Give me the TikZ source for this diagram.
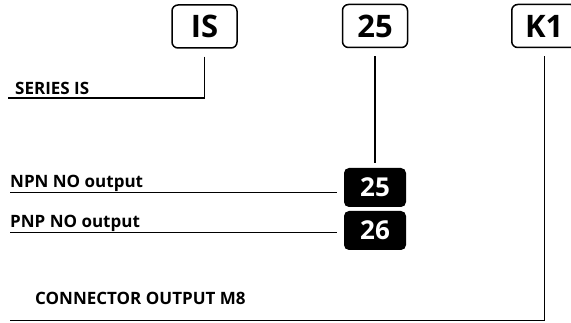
\documentclass[tikz,border=0pt]{standalone}
\usepackage{fontspec}
\setmainfont{Open Sans}
\usepackage{tikz}
\usetikzlibrary{
    positioning,
    calc
}
\tikzset{
    codebox/.style={draw=black,line width=1.5pt,rounded corners=6pt,minimum width=65pt,minimum height=43pt,inner sep=0pt,font=\fontsize{31}{31}\selectfont\bfseries},
    outbox/.style={fill=black,rounded corners=5pt,minimum width=62pt,minimum height=39pt,inner sep=0pt,text=white,font=\fontsize{26}{26}\selectfont\bfseries},
    lbl/.style={anchor=base west,inner sep=0pt,font=\fontsize{17}{17}\selectfont\bfseries},
    lead/.style={line width=1.1pt}
}

\begin{document}
\begin{tikzpicture}[x=1pt,y=-1pt]
    \useasboundingbox (0,0) rectangle (571,323);
    % code boxes along the top
    \node[codebox] (series) at (204.5,26.5) {IS};
    \node[codebox] (code) at (375,26) {25};
    \node[codebox,anchor=west] (conn) at (511,26) {K1\hspace{14pt}};
    % output variants
    \node[outbox] (npn) at (375,187.5) {25};
    \node[outbox] (pnp) at (375,230.5) {26};
    % labels
    \node[lbl] (serieslbl) at (15,94.5) {SERIES IS};
    \node[lbl] (npnlbl) at (10,187.5) {NPN NO output};
    \node[lbl] (pnplbl) at (10,228) {PNP NO output};
    \node[lbl] (connlbl) at (35,304.5) {CONNECTOR OUTPUT M8};
    \coordinate (seriesend) at (8,98);
    \coordinate (npnend) at (10,192.5);
    \coordinate (pnpend) at (10,232.5);
    \coordinate (connend) at (10,320.5);
    % leaders
    \draw[lead] ([yshift=-8pt]series.south) |- (seriesend);
    \draw[lead] ([yshift=-8pt]code.south) -- ([yshift=5pt]npn.north);
    \draw[lead] ([yshift=-8pt]conn.south) |- (connend);
    \draw[lead,shorten >=7pt] (npnend) -- (npnend -| npn.west);
    \draw[lead,shorten >=7pt] (pnpend) -- (pnpend -| pnp.west);
\end{tikzpicture}
\end{document}
